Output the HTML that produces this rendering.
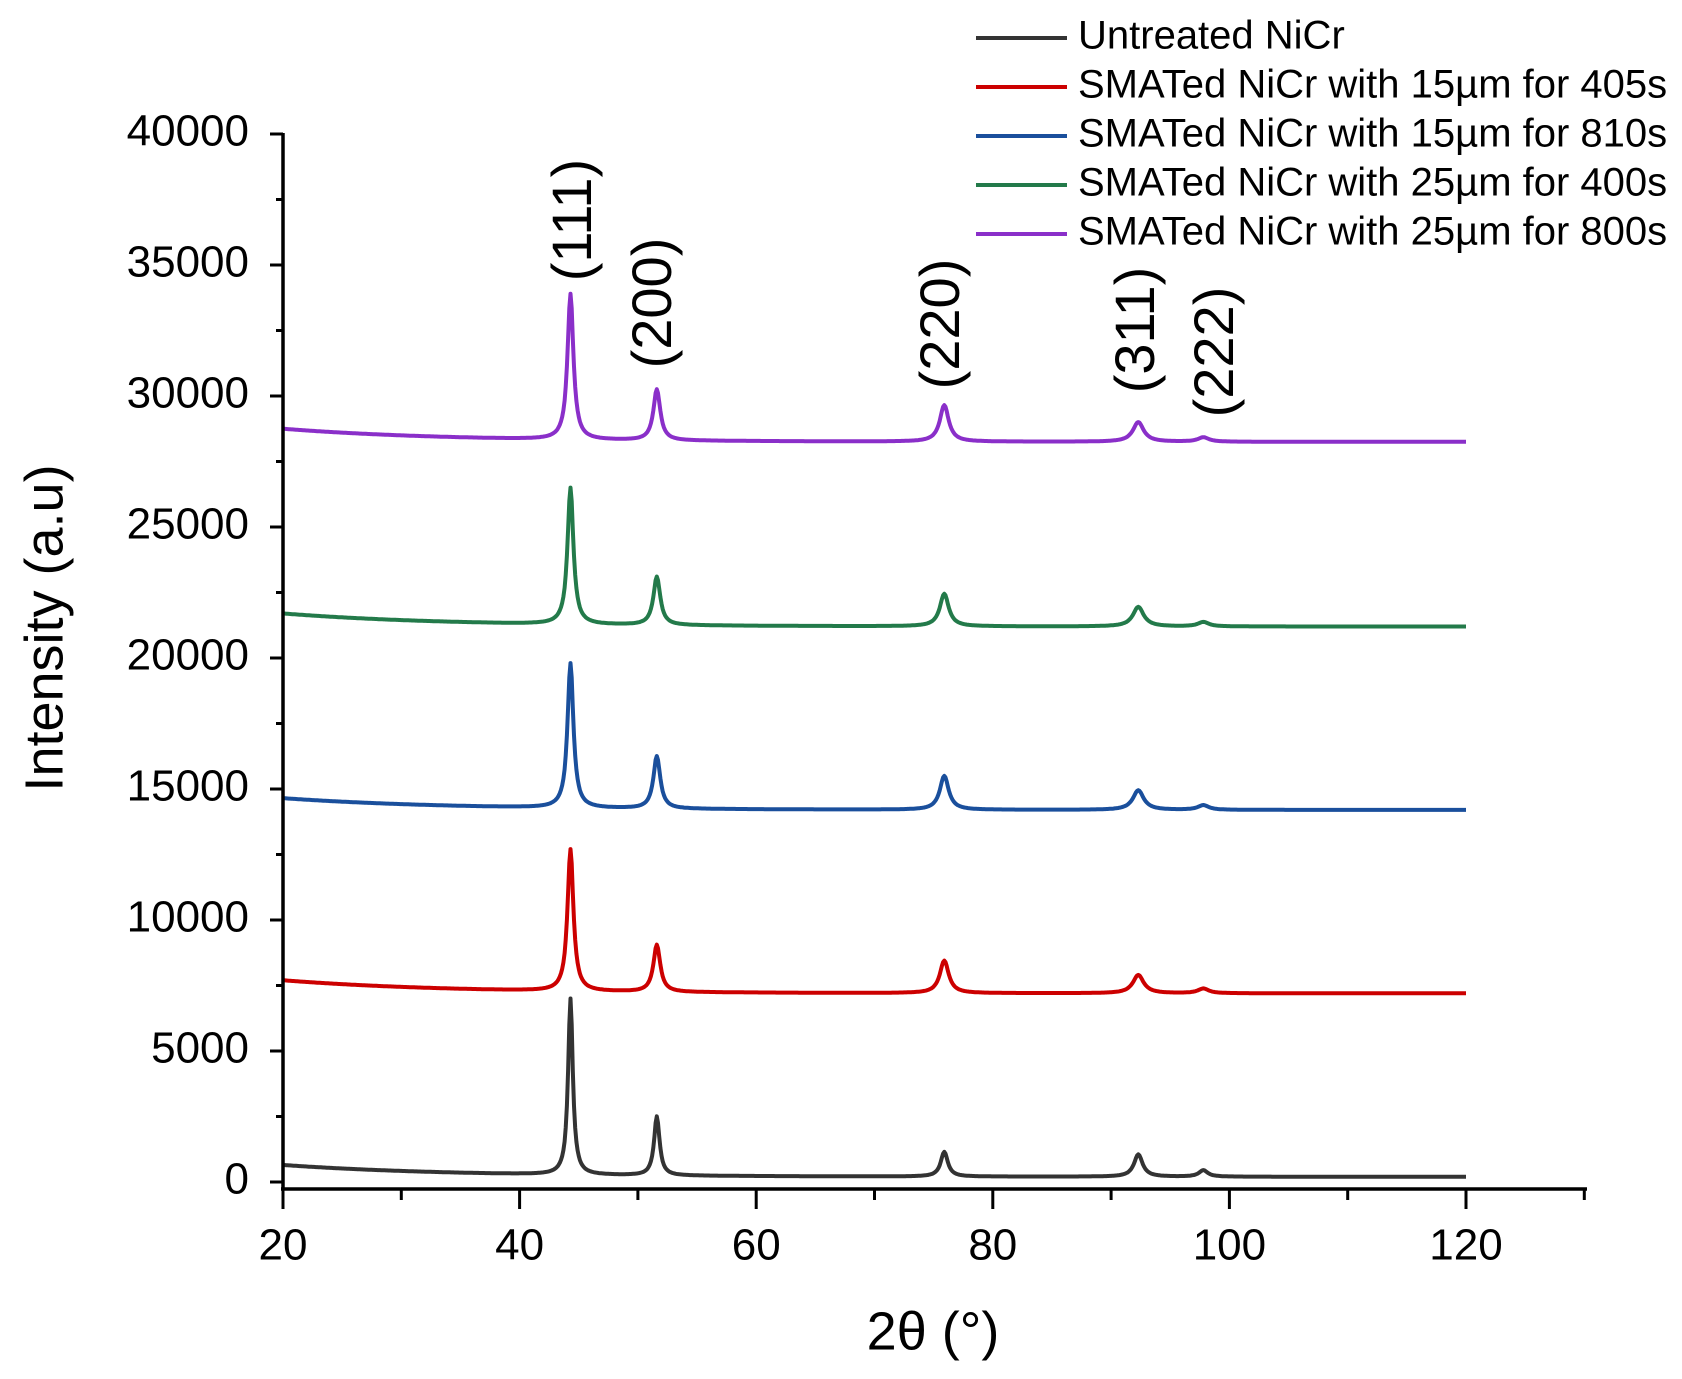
<!DOCTYPE html>
<html><head><meta charset="utf-8"><style>
body{margin:0;background:#fff}
svg{display:block;font-family:"Liberation Sans",Arial,sans-serif}
</style></head><body>
<svg id="chart" width="1682" height="1379" viewBox="0 0 1682 1379">
<g id="marks"></g>
<g id="axes"></g>
<g id="legend"></g>
<text x="48" y="628" font-size="54" text-anchor="middle" dominant-baseline="middle" transform="rotate(-90 48 628)">Intensity (a.u)</text>
<text x="933" y="1335" font-size="54" text-anchor="middle" dominant-baseline="middle">2θ (°)</text>
</svg>
<script>
const seriesNames=["Untreated NiCr","SMATed NiCr with 15µm for 405s","SMATed NiCr with 15µm for 810s","SMATed NiCr with 25µm for 400s","SMATed NiCr with 25µm for 800s"];
const seriesColors=["#333333","#cc0000","#1a4f9c","#237a4a","#8a2fc9"];
const peakPositions=[44.3,51.6,75.9,92.3,97.8];
const peakLabels=["(111)","(200)","(220)","(311)","(222)"];
const peakWidths=[0.3,0.35,0.45,0.55,0.55];
const baseStart=[650,7700,14650,21700,28750];
const baseEnd=[200,7200,14200,21200,28250];
const peakTops0=[7000,2500,1150,1050,450];
const peakTops1=[12700,9050,8450,7900,7380];
const peakTops2=[19800,16250,15500,14950,14380];
const peakTops3=[26500,23100,22450,21950,21370];
const peakTops4=[33900,30250,29650,29000,28420];
const peakTops=[peakTops0,peakTops1,peakTops2,peakTops3,peakTops4];
const xTicks=[20,40,60,80,100,120];
const yTicks=[0,5000,10000,15000,20000,25000,30000,35000,40000];

const X=v=>283+(v-20)*11.83;
const Y=v=>1182-v*0.0262;
const NS="http://www.w3.org/2000/svg";
function mk(t,a,p){const e=document.createElementNS(NS,t);for(const k in a)e.setAttribute(k,a[k]);p.appendChild(e);return e;}
const marks=document.getElementById('marks'),axes=document.getElementById('axes'),legend=document.getElementById('legend');

seriesNames.forEach((n,s)=>{
  const base=x=>baseEnd[s]+(baseStart[s]-baseEnd[s])*Math.exp(-(x-20)/14);
  let d="";
  for(let i=0;i<=1000;i++){
    const x=20+i*0.1;let y=base(x);
    peakPositions.forEach((p,k)=>{const h=peakTops[s][k]-base(p);const w=peakWidths[k]*(s===0?0.8:1);y+=h/(1+((x-p)/w)**2);});
    d+=(i?"L":"M")+X(x).toFixed(1)+","+Y(y).toFixed(1);
  }
  const el=mk('path',{d:d,fill:'none',stroke:seriesColors[s],'stroke-width':4,'stroke-linejoin':'round'},marks);
  
  
  const ly=38+s*49;
  const ln=mk('line',{x1:976,x2:1067,y1:ly,y2:ly,stroke:seriesColors[s],'stroke-width':4},legend);
  
  
  const tx=mk('text',{x:1078,y:ly,'font-size':40,'dominant-baseline':'middle'},legend);
  tx.textContent=n;
  
  
});

const labelPos=[[576,220],[656,303],[944,324],[1139,330],[1218,352]];
peakLabels.forEach((l,k)=>{
  const [cx,cy]=labelPos[k];
  const t=mk('text',{x:cx,y:cy,'font-size':56,'text-anchor':'middle','dominant-baseline':'middle',transform:`rotate(-90 ${cx} ${cy})`},marks);
  t.textContent=l;
  
  
});

const ya=mk('line',{x1:283,x2:283,y1:133,y2:1190,stroke:'#000','stroke-width':3.5},axes);


const xa=mk('line',{x1:281,x2:1587,y1:1189,y2:1189,stroke:'#000','stroke-width':3.5},axes);


yTicks.forEach(v=>{
  mk('line',{x1:270,x2:283,y1:Y(v),y2:Y(v),stroke:'#000','stroke-width':3},axes);
  if(v<40000) mk('line',{x1:276,x2:283,y1:Y(v+2500),y2:Y(v+2500),stroke:'#000','stroke-width':3},axes);
  const t=mk('text',{x:249,y:Y(v),'font-size':44,'text-anchor':'end','dominant-baseline':'middle'},axes);
  t.textContent=v;
  
  
});
for(let v=20;v<=130;v+=10){
  const maj=(v%20===0);
  mk('line',{x1:X(v),x2:X(v),y1:1189,y2:maj?1209:1200,stroke:'#000','stroke-width':3},axes);
}
xTicks.forEach(v=>{
  const t=mk('text',{x:X(v),y:1248,'font-size':44,'text-anchor':'middle','dominant-baseline':'middle'},axes);
  t.textContent=v;
  
  
});
</script>
</body></html>
